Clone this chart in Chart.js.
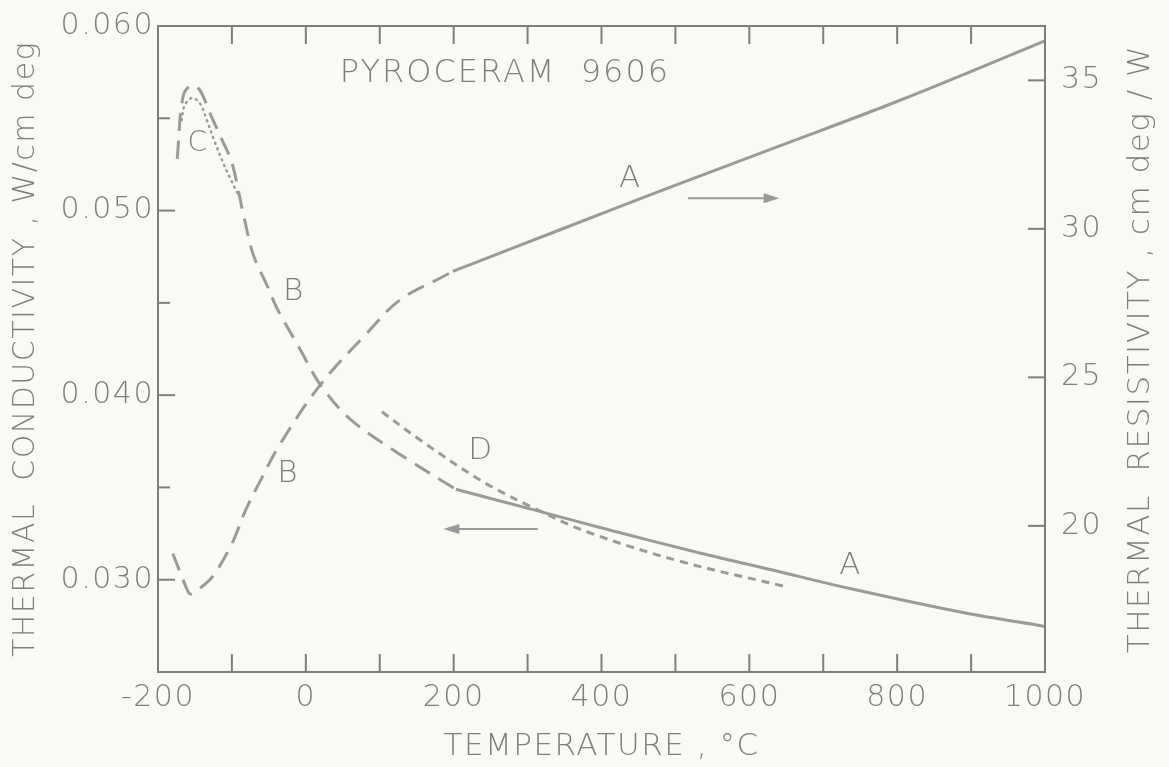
<!DOCTYPE html>
<html>
<head>
<meta charset="utf-8">
<title>Pyroceram 9606</title>
<script src="https://cdn.jsdelivr.net/npm/chart.js@4.4.0/dist/chart.umd.min.js"></script>
<style>
  html, body { margin: 0; padding: 0; background: #fafaf4; }
  #wrap { width: 1169px; height: 767px; }
</style>
</head>
<body>
<div id="wrap"><canvas id="pyroceram_Chart" width="1169" height="767"></canvas></div>
<script>
// temperature (deg C) / conductivity (W/cm deg), left axis
var condA_T = [203, 310, 416, 533, 641, 736, 889, 1000];
var condA_k = [0.0349, 0.03377, 0.03264, 0.03145, 0.03043, 0.02952, 0.02822, 0.02747];

var condB_T = [-174, -166, -154, -143, -130, -113, -100, -85, -71, -52, -39, -8, 19, 60, 127, 203];
var condB_k = [0.0528, 0.0562, 0.0568, 0.0565, 0.0553, 0.0538, 0.0526, 0.0499, 0.0476, 0.0459, 0.0447, 0.0425, 0.0406, 0.0387, 0.0368, 0.0349];

var condC_T = [-168, -164, -154, -143, -134, -123, -112, -103, -92];
var condC_k = [0.0549, 0.0557, 0.0561, 0.0558, 0.0549, 0.0537, 0.0526, 0.0518, 0.0509];

var condD_T = [103, 150, 240, 313, 380, 506, 652];
var condD_k = [0.0391, 0.0377, 0.0353, 0.0338, 0.0326, 0.0310, 0.0296];

// resistivity (cm deg/W), right axis
var resA_T = [199, 226, 344, 479, 642, 804, 1000];
var resA_R = [28.57, 28.83, 29.97, 31.27, 32.8, 34.33, 36.33];

var resB_T = [-180, -171, -159, -155, -150, -127, -100, -82, -62, -35, 19, 83, 127, 184, 199];
var resB_R = [19.07, 18.5, 17.77, 17.7, 17.77, 18.27, 19.4, 20.5, 21.5, 22.75, 24.73, 26.5, 27.6, 28.37, 28.57];

// axis ticks
var xTicks = [-100, 0, 100, 200, 300, 400, 500, 600, 700, 800, 900];
var xLabels = [-200, 0, 200, 400, 600, 800, 1000];
var leftTicks = [0.030, 0.035, 0.040, 0.045, 0.050, 0.055];
var leftLabels = ['0.030', '0.040', '0.050', '0.060'];
var rightTicks = [20, 25, 30, 35];

var lineGray = '#9a9a9a';
var axisGray = '#7e7e7e';
var textGray = '#7e7e7e';
var fontName = '"DejaVu Sans", sans-serif';

const zip = (xs, ys) => xs.map((v, i) => ({ x: v, y: ys[i] }));

var ctx = document.getElementById('pyroceram_Chart');

const frameAndNotes = {
    id: 'frameAndNotes',
    beforeDraw(chart) {
        const c = chart.ctx;
        c.save();
        c.fillStyle = '#fafaf4';
        c.fillRect(0, 0, chart.width, chart.height);
        c.restore();
        // the lettering on the original is wide and open
        c.letterSpacing = '1.5px';
    },
    afterDraw(chart) {
        const c = chart.ctx;
        const a = chart.chartArea;
        const sx = chart.scales.x, sl = chart.scales.y, sr = chart.scales.y2;
        c.save();
        c.strokeStyle = axisGray;
        c.lineWidth = 2;
        c.strokeRect(a.left, a.top, a.right - a.left, a.bottom - a.top);

        const seg = (x1, y1, x2, y2) => { c.beginPath(); c.moveTo(x1, y1); c.lineTo(x2, y2); c.stroke(); };

        xTicks.forEach(v => {
            var px = sx.getPixelForValue(v);
            seg(px, a.bottom, px, a.bottom - 18);
            seg(px, a.top, px, a.top + 18);
        });
        leftTicks.forEach(v => {
            var py = sl.getPixelForValue(v);
            var major = Math.round(v * 1000) % 10 === 0;
            seg(a.left, py, a.left + (major ? 17 : 12), py);
        });
        rightTicks.forEach(v => {
            var py = sr.getPixelForValue(v);
            seg(a.right, py, a.right - 17, py);
        });

        // arrows, placed in data units
        c.lineWidth = 2;
        c.fillStyle = lineGray;
        c.strokeStyle = lineGray;
        var ry = sr.getPixelForValue(31.03);
        var rx1 = sx.getPixelForValue(517), rx2 = sx.getPixelForValue(641);
        seg(rx1, ry, rx2 - 8, ry);
        c.beginPath(); c.moveTo(rx2, ry); c.lineTo(rx2 - 16, ry - 5); c.lineTo(rx2 - 16, ry + 5); c.closePath(); c.fill();

        var ly = sl.getPixelForValue(0.03275);
        var lx1 = sx.getPixelForValue(314), lx2 = sx.getPixelForValue(186);
        seg(lx1, ly, lx2 + 8, ly);
        c.beginPath(); c.moveTo(lx2, ly); c.lineTo(lx2 + 16, ly - 5); c.lineTo(lx2 + 16, ly + 5); c.closePath(); c.fill();

        // curve letters
        c.fillStyle = textGray;
        c.textAlign = 'center';
        c.textBaseline = 'middle';
        c.letterSpacing = '0px';
        c.font = '300 31px ' + fontName;
        c.fillText('A', sx.getPixelForValue(438), sr.getPixelForValue(31.67));
        c.fillText('A', sx.getPixelForValue(736), sl.getPixelForValue(0.03075));
        c.fillText('B', sx.getPixelForValue(-17), sl.getPixelForValue(0.04557));
        c.fillText('B', sx.getPixelForValue(-25), sl.getPixelForValue(0.03571));
        c.fillText('D', sx.getPixelForValue(236), sl.getPixelForValue(0.03695));
        c.font = '300 28px ' + fontName;
        c.fillText('C', sx.getPixelForValue(-147), sl.getPixelForValue(0.05364));

        c.textAlign = 'left';
        c.letterSpacing = '2px';
        c.font = '300 32px ' + fontName;
        c.fillText('PYROCERAM  9606', sx.getPixelForValue(46), sl.getPixelForValue(0.05741));

        // right axis title reads bottom to top like the left one
        c.translate(1141, (a.top + a.bottom) / 2);
        c.rotate(-Math.PI / 2);
        c.textAlign = 'center';
        c.letterSpacing = '1.5px';
        c.font = '300 31px ' + fontName;
        c.fillText('THERMAL  RESISTIVITY , cm deg / W', 0, 0);
        c.restore();
    }
};

var myChart = new Chart(ctx, {
    type: 'line',
    data: {
        datasets: [
            { label: 'A conductivity', data: zip(condA_T, condA_k), yAxisID: 'y', borderColor: lineGray, borderWidth: 3 },
            { label: 'B conductivity', data: zip(condB_T, condB_k), yAxisID: 'y', borderColor: lineGray, borderWidth: 3, borderDash: [18, 10] },
            { label: 'C', data: zip(condC_T, condC_k), yAxisID: 'y', borderColor: lineGray, borderWidth: 2.5, borderDash: [1, 5], borderCapStyle: 'round' },
            { label: 'D', data: zip(condD_T, condD_k), yAxisID: 'y', borderColor: lineGray, borderWidth: 3, borderDash: [8, 6] },
            { label: 'A resistivity', data: zip(resA_T, resA_R), yAxisID: 'y2', borderColor: lineGray, borderWidth: 3 },
            { label: 'B resistivity', data: zip(resB_T, resB_R), yAxisID: 'y2', borderColor: lineGray, borderWidth: 3, borderDash: [18, 10] }
        ]
    },
    options: {
        responsive: false,
        animation: false,
        events: [],
        elements: {
            point: { radius: 0 },
            line: { tension: 0.35, fill: false }
        },
        layout: { padding: { top: 22, left: 0, right: 0, bottom: 0 } },
        scales: {
            x: {
                type: 'linear',
                min: -200,
                max: 1000,
                grid: { display: false },
                border: { display: false },
                afterFit: s => { s.height = 95; },
                afterBuildTicks: s => { s.ticks = xLabels.map(v => ({ value: v })); },
                ticks: {
                    color: textGray,
                    padding: 0,
                    maxRotation: 0,
                    font: { family: fontName, size: 30, weight: '300' },
                    callback: v => String(v)
                },
                title: {
                    display: true,
                    text: 'TEMPERATURE , °C',
                    color: textGray,
                    padding: { top: 0, bottom: 1 },
                    font: { family: fontName, size: 31, weight: '300' }
                }
            },
            y: {
                position: 'left',
                min: 0.025,
                max: 0.060,
                grid: { display: false },
                border: { display: false },
                afterFit: s => { s.width = 158; },
                afterBuildTicks: s => { s.ticks = leftLabels.map(t => ({ value: parseFloat(t) })); },
                ticks: {
                    color: textGray,
                    padding: -4,
                    font: { family: fontName, size: 30, weight: '300' },
                    callback: v => v.toFixed(3)
                },
                title: {
                    display: true,
                    text: 'THERMAL  CONDUCTIVITY , W/cm deg',
                    color: textGray,
                    padding: { top: 8, bottom: 0 },
                    font: { family: fontName, size: 30, weight: '300' }
                }
            },
            y2: {
                position: 'right',
                min: 15.08,
                max: 36.83,
                grid: { display: false },
                border: { display: false },
                afterFit: s => { s.width = 124; },
                afterBuildTicks: s => { s.ticks = rightTicks.map(v => ({ value: v })); },
                ticks: {
                    color: textGray,
                    padding: 8,
                    font: { family: fontName, size: 30, weight: '300' }
                }
            }
        },
        plugins: {
            legend: { display: false },
            tooltip: { enabled: false }
        }
    },
    plugins: [frameAndNotes]
});
</script>
</body>
</html>
